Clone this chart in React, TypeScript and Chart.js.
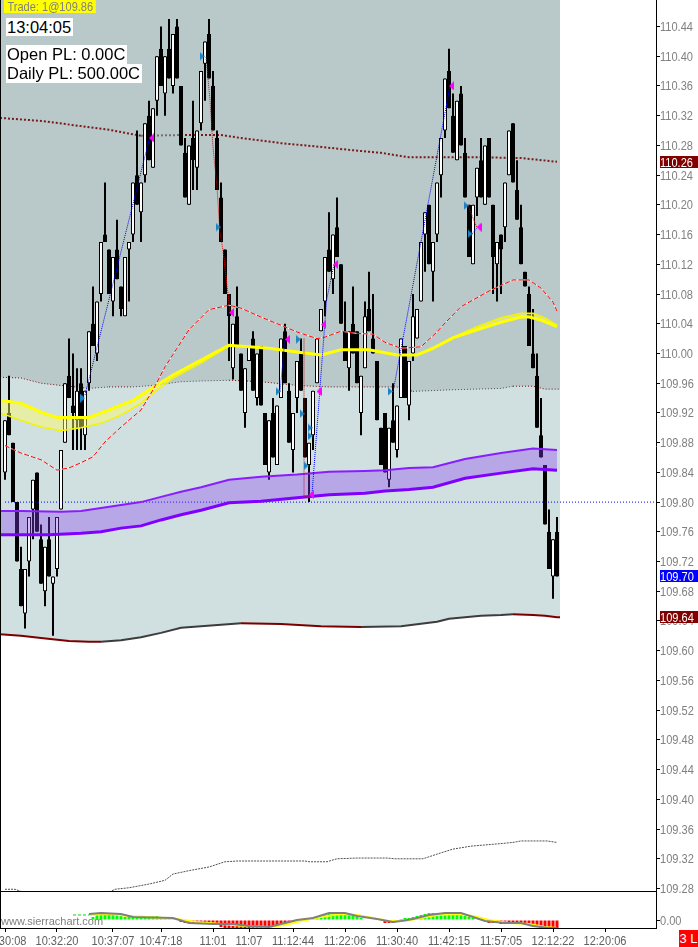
import React, { useEffect, useRef } from "react";
import { Chart, registerables } from "chart.js";
Chart.register(...registerables);

const SANS = "'Liberation Sans', Arial, sans-serif";
const NARROW_K = 0.85;

// ---- axes ----
const X_MIN = -1.25;
const X_MAX = 162.75;
const BG_END = 138.75;
const Y_MIN = 109.2753;
const Y_MAX = 110.4757;
const OSC_MIN = -0.008;
const OSC_MAX = 0.028;

const priceTicks = [109.28, 109.32, 109.36, 109.40, 109.44, 109.48, 109.52, 109.56, 109.60, 109.64, 109.68, 109.72, 109.76, 109.80, 109.84, 109.88, 109.92, 109.96, 110.00, 110.04, 110.08, 110.12, 110.16, 110.20, 110.24, 110.28, 110.32, 110.36, 110.40, 110.44];
const oscTicks = [0];
const oscTickLabels = ["0.00"];
const timeIdx = [0, 13, 27, 39, 52, 61, 72, 85, 98, 111, 124, 137, 150];
const timeLabels = ["10:30:08", "10:32:20", "10:37:07", "10:47:18", "11:01", "11:07", "11:12:44", "11:22:06", "11:30:40", "11:42:15", "11:57:05", "12:12:22", "12:20:06"];

// ---- candles ----
const opens = [
  109.84, 109.92, 109.88, 109.80, 109.71, 109.65, 109.72, 109.79, 109.84, 109.75,
  109.68, 109.75, 109.69, 109.71, 109.79, 109.88, 109.97, 109.93, 109.91, 109.96,
  109.89, 109.96, 110.04, 110.00, 110.08, 110.16, 110.14, 110.07, 110.14, 110.09,
  110.05, 110.14, 110.16, 110.24, 110.19, 110.24, 110.32, 110.25, 110.34, 110.41,
  110.35, 110.41, 110.36, 110.44, 110.36, 110.27, 110.20, 110.29, 110.25, 110.31,
  110.39, 110.43, 110.36, 110.29, 110.21, 110.14, 110.08, 109.98, 110.05, 110.00,
  109.92, 109.99, 110.02, 109.94, 110.01, 109.92, 109.84, 109.92, 109.85, 109.94,
  110.03, 109.95, 109.87, 109.94, 110.00, 109.94, 109.85, 109.89, 109.96, 110.03,
  110.07, 110.14, 110.10, 110.17, 110.12, 110.03, 109.98, 110.04, 110.03, 109.92,
  109.98, 110.06, 110.02, 109.99, 109.90, 109.92, 109.83, 109.91, 109.87, 109.94,
  110.01, 109.93, 110.00, 110.02, 110.07, 110.16, 110.20, 110.11, 110.16, 110.24,
  110.30, 110.38, 110.32, 110.26, 110.35, 110.27, 110.20, 110.12, 110.21, 110.26,
  110.20, 110.29, 110.20, 110.12, 110.16, 110.17, 110.24, 110.31, 110.22, 110.17,
  110.11, 110.08, 110.00, 109.97, 109.89, 109.85, 109.76, 109.70, 109.76,
];
const highs = [
  109.91, 109.97, 109.88, 109.80, 109.74, 109.71, 109.78, 109.83, 109.84, 109.77,
  109.74, 109.78, 109.70, 109.78, 109.87, 109.96, 110.02, 110.00, 109.98, 109.98,
  109.95, 110.03, 110.09, 110.07, 110.15, 110.23, 110.14, 110.13, 110.18, 110.09,
  110.13, 110.15, 110.23, 110.30, 110.23, 110.31, 110.34, 110.33, 110.40, 110.44,
  110.40, 110.45, 110.43, 110.45, 110.36, 110.29, 110.28, 110.34, 110.30, 110.38,
  110.42, 110.45, 110.38, 110.30, 110.23, 110.14, 110.08, 110.04, 110.09, 110.00,
  109.98, 110.01, 110.03, 110.00, 110.01, 109.92, 109.91, 109.94, 109.93, 110.02,
  110.04, 109.96, 109.92, 109.99, 110.02, 109.94, 109.88, 109.95, 110.02, 110.06,
  110.13, 110.19, 110.16, 110.21, 110.12, 110.07, 110.03, 110.09, 110.03, 109.97,
  110.07, 110.11, 110.08, 109.99, 109.90, 109.92, 109.90, 109.96, 109.93, 110.02,
  110.01, 109.99, 110.08, 110.06, 110.15, 110.19, 110.20, 110.15, 110.23, 110.29,
  110.37, 110.41, 110.35, 110.34, 110.36, 110.29, 110.20, 110.20, 110.25, 110.29,
  110.28, 110.29, 110.20, 110.15, 110.16, 110.23, 110.30, 110.31, 110.26, 110.20,
  110.11, 110.09, 110.06, 110.00, 109.94, 109.85, 109.79, 109.75, 109.78,
];
const lows = [
  109.83, 109.89, 109.80, 109.72, 109.66, 109.63, 109.70, 109.75, 109.76, 109.69,
  109.66, 109.70, 109.62, 109.70, 109.79, 109.88, 109.94, 109.87, 109.87, 109.87,
  109.87, 109.95, 110.01, 109.99, 110.07, 110.15, 110.08, 110.05, 110.10, 110.05,
  110.05, 110.07, 110.15, 110.20, 110.15, 110.23, 110.26, 110.25, 110.32, 110.36,
  110.32, 110.37, 110.35, 110.37, 110.28, 110.21, 110.20, 110.22, 110.22, 110.30,
  110.34, 110.37, 110.30, 110.22, 110.15, 110.08, 109.99, 109.965, 110.01, 109.95,
  109.90, 109.99, 109.95, 109.93, 109.93, 109.85, 109.83, 109.86, 109.85, 109.94,
  109.96, 109.88, 109.84, 109.92, 109.95, 109.86, 109.80, 109.87, 109.96, 110.03,
  110.05, 110.11, 110.08, 110.13, 110.04, 109.99, 109.95, 110.00, 109.96, 109.89,
  109.98, 110.03, 110.00, 109.91, 109.85, 109.84, 109.82, 109.88, 109.86, 109.94,
  109.94, 109.91, 109.99, 110.02, 110.07, 110.11, 110.12, 110.07, 110.15, 110.21,
  110.29, 110.33, 110.27, 110.26, 110.28, 110.21, 110.13, 110.12, 110.185, 110.21,
  110.20, 110.21, 110.08, 110.07, 110.08, 110.15, 110.24, 110.23, 110.18, 110.12,
  110.09, 110.01, 109.98, 109.90, 109.86, 109.77, 109.71, 109.67, 109.70,
];
const closes = [
  109.91, 109.89, 109.80, 109.72, 109.66, 109.71, 109.78, 109.83, 109.76, 109.69,
  109.74, 109.70, 109.70, 109.78, 109.87, 109.96, 109.94, 109.92, 109.95, 109.90,
  109.95, 110.03, 110.01, 110.07, 110.15, 110.15, 110.08, 110.13, 110.10, 110.06,
  110.13, 110.15, 110.23, 110.20, 110.23, 110.31, 110.26, 110.33, 110.40, 110.36,
  110.40, 110.37, 110.43, 110.37, 110.28, 110.21, 110.28, 110.26, 110.30, 110.38,
  110.42, 110.37, 110.30, 110.22, 110.15, 110.08, 110.05, 110.04, 110.01, 109.95,
  109.98, 110.01, 109.95, 110.00, 109.93, 109.85, 109.91, 109.86, 109.93, 110.02,
  109.96, 109.88, 109.92, 109.99, 109.95, 109.86, 109.88, 109.95, 110.02, 110.06,
  110.13, 110.11, 110.16, 110.13, 110.04, 109.99, 110.03, 110.00, 109.96, 109.97,
  110.05, 110.03, 110.00, 109.91, 109.85, 109.84, 109.90, 109.88, 109.93, 110.02,
  109.94, 109.99, 110.05, 110.06, 110.15, 110.19, 110.12, 110.15, 110.23, 110.29,
  110.37, 110.33, 110.27, 110.34, 110.28, 110.21, 110.13, 110.20, 110.25, 110.21,
  110.28, 110.21, 110.13, 110.15, 110.14, 110.23, 110.30, 110.23, 110.18, 110.12,
  110.09, 110.01, 109.98, 109.90, 109.86, 109.77, 109.71, 109.75, 109.70,
];

// ---- studies: [bar index, price] ----
const upperDotted = [[-1.25, 110.317], [9, 110.313], [19, 110.306], [26, 110.301], [34, 110.293], [44, 110.294], [54, 110.294], [59, 110.290], [69, 110.283], [79, 110.278], [86, 110.274], [94, 110.270], [101, 110.264], [111, 110.264], [119, 110.264], [129, 110.263], [138, 110.258]];
const midDotted = [[-1.25, 109.968], [4, 109.967], [9, 109.960], [14, 109.957], [21, 109.953], [26, 109.955], [32, 109.955], [37, 109.957], [44, 109.962], [49, 109.963], [56, 109.964], [64, 109.962], [73, 109.957], [81, 109.955], [89, 109.955], [98, 109.955], [102, 109.949], [111, 109.951], [124, 109.953], [127, 109.956], [132, 109.956], [135, 109.952], [138, 109.952]];
const lowerLine = [[-1.25, 109.622], [4, 109.620], [9, 109.617], [16, 109.613], [21, 109.612], [24, 109.612], [29, 109.614], [34, 109.618], [39, 109.624], [44, 109.631], [49, 109.633], [59, 109.637], [69, 109.636], [79, 109.633], [89, 109.632], [99, 109.633], [108, 109.639], [111, 109.643], [115, 109.645], [119, 109.647], [124, 109.648], [127, 109.649], [132, 109.648], [135, 109.647], [138, 109.645]];
const bottomDotted = [[0, 109.279], [2.5, 109.279], [4, 109.276], [6, 109.274], [25, 109.274], [26, 109.275], [27.5, 109.279], [31, 109.281], [36, 109.286], [40, 109.291], [42, 109.2995], [46, 109.304], [51, 109.309], [55, 109.316], [58, 109.317], [75, 109.317], [76, 109.316], [80.5, 109.316], [83, 109.320], [88, 109.321], [95.5, 109.321], [97.5, 109.320], [104.5, 109.320], [109, 109.328], [112, 109.333], [116.5, 109.337], [123, 109.340], [127, 109.342], [129, 109.344], [135.5, 109.344], [138, 109.342]];
const redMA = [[0, 109.876], [4, 109.866], [9, 109.857], [13, 109.843], [16, 109.846], [19, 109.853], [22, 109.861], [25, 109.881], [29, 109.901], [34, 109.924], [37, 109.951], [40, 109.982], [46, 110.032], [51, 110.059], [56, 110.065], [59, 110.061], [64, 110.049], [69, 110.038], [73, 110.029], [78, 110.020], [80, 110.022], [84, 110.030], [88, 110.027], [92, 110.026], [95, 110.015], [99, 110.007], [104, 110.009], [108, 110.029], [110, 110.041], [114, 110.063], [118, 110.075], [121, 110.084], [127, 110.099], [131, 110.099], [134, 110.088], [137, 110.069], [138, 110.057]];
const yellowMain = [[-1.25, 109.937], [4, 109.933], [9, 109.921], [13, 109.914], [21, 109.914], [26, 109.924], [32, 109.937], [36, 109.951], [42, 109.971], [49, 109.991], [56, 110.011], [61, 110.009], [66, 110.007], [73, 110.002], [79, 109.998], [84, 110.005], [91, 110.005], [98, 109.998], [103, 109.998], [107, 110.007], [112, 110.021], [118, 110.032], [124, 110.042], [129, 110.049], [131, 110.049], [134, 110.045], [138, 110.036]];
const yellowAlt = [[-1.25, 109.920], [4, 109.910], [9, 109.901], [14, 109.896], [19, 109.900], [24, 109.906], [29, 109.917], [34, 109.933], [38, 109.951], [42, 109.967], [49, 109.987], [56, 110.010], [61, 110.009], [66, 110.007], [73, 110.002], [79, 109.998], [84, 110.005], [91, 110.005], [98, 109.998], [103, 109.998], [107, 110.008], [112, 110.022], [118, 110.036], [124, 110.048], [129, 110.054], [132, 110.054], [135, 110.048], [138, 110.038]];
const purpleUpper = [[-1.25, 109.788], [4, 109.788], [14, 109.787], [19, 109.788], [24, 109.792], [29, 109.796], [34, 109.800], [39, 109.807], [44, 109.814], [49, 109.820], [56, 109.830], [64, 109.834], [73, 109.837], [81, 109.841], [90, 109.842], [95, 109.843], [101, 109.846], [107, 109.847], [115, 109.858], [124, 109.866], [132, 109.872], [138, 109.870]];
const purpleLower = [[-1.25, 109.756], [4, 109.756], [11, 109.756], [19, 109.758], [24, 109.760], [29, 109.765], [34, 109.768], [39, 109.776], [44, 109.783], [49, 109.789], [56, 109.799], [64, 109.801], [73, 109.806], [81, 109.810], [90, 109.812], [95, 109.815], [101, 109.817], [107, 109.820], [115, 109.832], [124, 109.839], [132, 109.845], [138, 109.843]];
const entryLevel = [[0, 109.80], [162.75, 109.80]];

// ---- trades ----
const blueMarks = [[19.4, 109.940], [49.25, 110.400], [53.25, 110.170], [68.25, 109.949], [73.3, 110.019], [74.25, 109.919], [76.25, 109.900], [76.25, 109.889], [75.25, 109.849], [96.25, 109.949], [115.25, 110.199], [116.25, 110.161]];
const magentaMarks = [[36.6, 110.290], [56.6, 110.055], [70.6, 110.019], [78.5, 109.949], [76.6, 109.810], [79.6, 110.039], [82.6, 110.120], [111.6, 110.360], [118.5, 110.170]];
const winLines = [
  [[20, 109.944], [36, 110.287]],
  [[68.75, 109.949], [70, 110.019]],
  [[76.7, 109.807], [80.4, 110.072], [82.25, 110.120]],
  [[97, 109.948], [111.25, 110.360]],
  [[116.75, 110.161], [118, 110.169]],
];
const lossLines = [
  [[50.25, 110.399], [51.25, 110.341], [52, 110.278], [53, 110.224], [53.75, 110.162], [54.5, 110.139], [56.25, 110.056]],
  [[74.75, 110.020], [74.75, 109.808], [76, 109.808]],
  [[115.75, 110.199], [118, 110.169]],
];

// ---- oscillator pane ----
const oscHist = [
  null, null, null, null, null, null, null, null, null, null, null, null, null, null, null, null, null, null, null, null, null, null,
  0.003, 0.005, 0.007, 0.007, 0.007, 0.006, 0.005, 0.004, 0.003, 0.003, 0.003, 0.003, 0.003, 0.003, 0.004, 0.004, 0.004, 0.003, 0.003, 0.002, 0.002, 0.001,
  -0.002, -0.003, -0.003, -0.003, -0.004, -0.004, -0.004, -0.004, -0.005, -0.005, -0.007, -0.008, -0.008, -0.008, -0.008, -0.008, -0.008, -0.008, -0.008, -0.008, -0.008, -0.007, -0.007, -0.006, -0.005, -0.004, -0.004, -0.003, -0.002,
  0.001, 0.001, 0.002, 0.002, 0.003, 0.004, 0.005, 0.006, 0.007, 0.007, 0.007, 0.007, 0.006, 0.005, 0.004, 0.003, 0.002,
  null, null, null, null, null,
  -0.003, -0.003, -0.003, -0.002,
  0.001, 0.002, 0.002, 0.003, 0.004, 0.005, 0.006, 0.007, 0.007, 0.007, 0.007, 0.007, 0.007, 0.007, 0.006, 0.005, 0.004, 0.003, 0.002,
  null, null, null,
  -0.003, -0.003, -0.003, -0.004, -0.004, -0.004, -0.004, -0.004, -0.004, -0.005, -0.005, -0.006, -0.007, -0.008, -0.008, -0.008, -0.008, -0.008,
];
const oscGray = [[21, 0.006], [24, 0.007], [29, 0.006], [32, 0.003], [42, 0.002], [46, -0.003], [52, -0.004], [57, -0.004], [61, -0.006], [66, -0.007], [70, -0.003], [73, 0], [77, 0.002], [81, 0.007], [85, 0.007], [88, 0.004], [93, 0.001], [97, -0.002], [99, -0.001], [102, 0.001], [106, 0.005], [110, 0.007], [114, 0.007], [117, 0.003], [120, -0.001], [125, -0.003], [129, -0.003], [132, -0.006], [136, -0.008], [138, -0.008]];
const oscYellow = [[21, 0.005], [26, 0.006], [31, 0.004], [36, 0.003], [43, 0.001], [48, -0.002], [54, -0.004], [60, -0.006], [66, -0.007], [70, -0.005], [74, -0.001], [79, 0.003], [84, 0.006], [88, 0.005], [92, 0.002], [96, -0.001], [100, -0.001], [104, 0.002], [108, 0.005], [113, 0.006], [117, 0.004], [121, 0], [126, -0.003], [131, -0.004], [135, -0.007], [138, -0.008]];
const oscGreenDash = [[17, 0.005], [21, 0.005]];

// ---- price flags on axis ----
const flagValues = [110.258, 109.70, 109.645];
const flagTexts = ["110.26", "109.70", "109.64"];
const flagColors = ["#800000", "#0000ff", "#800000"];

function triangle(color: string, dir: number) {
  const c = document.createElement("canvas");
  c.width = 5;
  c.height = 9;
  const g = c.getContext("2d")!;
  g.fillStyle = color;
  g.beginPath();
  if (dir > 0) {
    g.moveTo(0, 0); g.lineTo(5, 4.5); g.lineTo(0, 9);
  } else {
    g.moveTo(5, 0); g.lineTo(0, 4.5); g.lineTo(5, 9);
  }
  g.closePath();
  g.fill();
  return c;
}

function narrowText(ctx: CanvasRenderingContext2D, text: string, x: number, y: number, align: CanvasTextAlign) {
  ctx.save();
  ctx.translate(x, y);
  ctx.scale(NARROW_K, 1);
  ctx.textAlign = align;
  ctx.fillText(text, 0, 0);
  ctx.restore();
}

export default function App() {
  const canvasRef = useRef<HTMLCanvasElement | null>(null);

  useEffect(() => {
    document.body.style.margin = "0";
    const canvas = canvasRef.current;
    if (!canvas) return;

    const P = (arr: number[][]) => arr.map(([x, y]) => ({ x, y }));
    const PE = (arr: number[][]) => [...P(arr), { x: BG_END, y: arr[arr.length - 1][1] }];
    const seg = (up: string, down: string) => (c: any) => (c.p1.parsed.y > c.p0.parsed.y ? up : down);
    const line = (extra: any) => ({
      type: "line", pointRadius: 0, pointHoverRadius: 0, tension: 0, borderWidth: 1,
      fill: false, xAxisID: "x", yAxisID: "y", ...extra,
    });

    const datasets: any[] = [];
    // 0: lower band line + light background
    datasets.push(line({ data: PE(lowerLine), borderWidth: 2, backgroundColor: "#d0dfdf", fill: "end", order: 100,
      segment: { borderColor: seg("#3c3c3c", "#7a0000") }, borderColor: "#7a0000" }));
    // 1: middle dotted + dark background
    datasets.push(line({ data: PE(midDotted), borderDash: [1, 2], backgroundColor: "#b9c9c9", fill: "end", order: 99,
      segment: { borderColor: seg("#505050", "#7a1010") }, borderColor: "#7a1010" }));
    // 2: upper dotted
    datasets.push(line({ data: P(upperDotted), borderWidth: 2, borderDash: [2, 2], order: 98,
      segment: { borderColor: seg("#707070", "#7a1a1a") }, borderColor: "#7a1a1a" }));
    // 3: bottom dotted
    datasets.push(line({ data: P(bottomDotted), borderDash: [2, 1], borderColor: "#505050", order: 97 }));
    // 4: wicks
    datasets.push({ type: "bar", data: lows.map((l, i) => ({ x: i, y: [l, highs[i]] })), backgroundColor: "#000",
      borderWidth: 0, barThickness: 2, grouped: false, inflateAmount: 0, order: 80, xAxisID: "x", yAxisID: "y" });
    // 5: bodies
    datasets.push({ type: "bar", data: opens.map((o, i) => ({ x: i, y: [o, closes[i]] })),
      backgroundColor: opens.map((o, i) => (closes[i] >= o ? "#ffffff" : "#000000")),
      borderColor: "#000", borderWidth: 1, borderSkipped: false, barThickness: 4, grouped: false, inflateAmount: 0,
      order: 79, xAxisID: "x", yAxisID: "y" });
    // 6: entry level
    datasets.push(line({ data: P(entryLevel), borderColor: "#0000ff", borderDash: [1, 2], order: 78 }));
    // 7,8: purple band
    datasets.push(line({ data: P(purpleUpper), borderColor: "#8a1cff", borderWidth: 2, backgroundColor: "rgba(139,64,247,0.35)",
      fill: { target: 8 }, order: 70 }));
    datasets.push(line({ data: P(purpleLower), borderColor: "#8000ff", borderWidth: 3, order: 69 }));
    // 9,10: yellow band
    datasets.push(line({ data: P(yellowAlt), borderColor: "#f4f400", borderWidth: 1.5, backgroundColor: "rgba(255,255,100,0.45)",
      fill: { target: 10 }, order: 68 }));
    datasets.push(line({ data: P(yellowMain), borderColor: "#ffff00", borderWidth: 3, order: 67 }));
    // 11,12: red MA
    datasets.push(line({ data: P(redMA), borderColor: "#ffffff", order: 66 }));
    datasets.push(line({ data: P(redMA), borderColor: "#ff0000", borderDash: [5, 2], order: 65 }));
    // 13-16: oscillator
    const histPts = oscHist.map((v, i) => (v === null ? null : { x: i, y: v })).filter((p) => p !== null) as any[];
    datasets.push({ type: "bar", data: histPts, backgroundColor: histPts.map((p) => (p.y >= 0 ? "#00ff00" : "#ff0000")),
      borderWidth: 0, barThickness: 3, grouped: false, inflateAmount: 0, order: 60, xAxisID: "x", yAxisID: "y2" });
    datasets.push(line({ data: P(oscYellow), borderColor: "#ffff00", borderWidth: 2, yAxisID: "y2", order: 59 }));
    datasets.push(line({ data: P(oscGray), borderColor: "#808080", borderWidth: 2, yAxisID: "y2", order: 58 }));
    datasets.push(line({ data: P(oscGreenDash), borderColor: "#00e000", borderWidth: 1, borderDash: [3, 2], yAxisID: "y2", order: 57 }));
    // trade lines
    winLines.forEach((l) => datasets.push(line({ data: P(l), borderColor: "#0000ff", borderDash: [1, 1], order: 20 })));
    lossLines.forEach((l) => datasets.push(line({ data: P(l), borderColor: "#e00000", borderDash: [1, 1], order: 20 })));
    // markers
    datasets.push(line({ data: P(blueMarks), showLine: false, pointRadius: 4, pointStyle: triangle("#1c84c6", 1), order: 10 }));
    datasets.push(line({ data: P(magentaMarks), showLine: false, pointRadius: 4, pointStyle: triangle("#ff00ff", -1), order: 10 }));

    const paneClip = {
      id: "paneClip",
      beforeDatasetDraw(chart: any, args: any) {
        const ys = args.meta.yScale;
        const ca = chart.chartArea;
        chart.ctx.save();
        chart.ctx.beginPath();
        chart.ctx.rect(ca.left, ys.top, ca.right - ca.left, ys.bottom - ys.top);
        chart.ctx.clip();
      },
      afterDatasetDraw(chart: any) {
        chart.ctx.restore();
      },
    };

    // axis labels drawn in a narrow face at the scales' own tick positions
    const overlay = {
      id: "overlay",
      afterDraw(chart: any) {
        const { ctx, chartArea } = chart;
        const xs = chart.scales.x;
        const ys = chart.scales.y;
        const y2 = chart.scales.y2;
        ctx.save();
        ctx.fillStyle = "#000";
        ctx.fillRect(chartArea.left, Math.round(ys.bottom) - 1, chartArea.right - chartArea.left, 1);
        ctx.fillRect(chartArea.left, chartArea.top, 1, chartArea.bottom - chartArea.top);
        ctx.font = `13px ${SANS}`;
        ctx.textBaseline = "alphabetic";
        ctx.fillStyle = "#808080";
        priceTicks.forEach((v) => {
          narrowText(ctx, v.toFixed(2), ys.left + 4, Math.round(ys.getPixelForValue(v) + 4.5), "left");
        });
        oscTicks.forEach((v, k) => {
          narrowText(ctx, oscTickLabels[k], y2.left + 4, Math.round(y2.getPixelForValue(v) + 4.5), "left");
        });
        ctx.fillStyle = "#606060";
        timeIdx.forEach((v, k) => {
          narrowText(ctx, timeLabels[k], xs.getPixelForValue(v), chartArea.bottom + 17, "center");
        });
        flagValues.forEach((v, k) => {
          const y = Math.round(ys.getPixelForValue(v));
          ctx.fillStyle = flagColors[k];
          ctx.fillRect(ys.left + 4, y - 6, 38, 12);
          ctx.fillStyle = "#ffffff";
          narrowText(ctx, flagTexts[k], ys.left + 4, y + 5, "left");
        });
        ctx.restore();
      },
    };

    const gridOpts = { display: true, offset: false, drawOnChartArea: false, drawTicks: true, tickLength: 4, color: "#000", tickColor: "#000" };
    const chart = new Chart(canvas, {
      type: "bar",
      data: { datasets },
      options: {
        responsive: false,
        animation: false,
        devicePixelRatio: 1,
        events: [],
        layout: { padding: 0, autoPadding: false },
        plugins: { legend: { display: false }, tooltip: { enabled: false } },
        scales: {
          x: {
            type: "linear", min: X_MIN, max: X_MAX, offset: false, position: "bottom",
            grid: gridOpts,
            border: { display: true, color: "#000", width: 1 },
            ticks: { display: false, autoSkip: false, maxRotation: 0 },
            afterBuildTicks: (s: any) => { s.ticks = timeIdx.map((v) => ({ value: v })); },
            afterFit: (s: any) => { s.height = 19; s.paddingLeft = 0; s.paddingRight = 0; },
          },
          y: {
            type: "linear", position: "right", stack: "pane", stackWeight: 892, min: Y_MIN, max: Y_MAX,
            grid: gridOpts,
            border: { display: true, color: "#000", width: 1 },
            ticks: { display: false, autoSkip: false },
            afterBuildTicks: (s: any) => { s.ticks = priceTicks.map((v) => ({ value: v })); },
            afterFit: (s: any) => { s.width = 42; s.paddingTop = 0; s.paddingBottom = 0; },
          },
          y2: {
            type: "linear", position: "right", stack: "pane", stackWeight: 36, min: OSC_MIN, max: OSC_MAX,
            grid: gridOpts,
            border: { display: true, color: "#000", width: 1 },
            ticks: { display: false, autoSkip: false },
            afterBuildTicks: (s: any) => { s.ticks = oscTicks.map((v) => ({ value: v })); },
            afterFit: (s: any) => { s.width = 42; s.paddingTop = 0; s.paddingBottom = 0; },
          },
        },
      } as any,
      plugins: [paneClip, overlay],
    } as any);

    return () => chart.destroy();
  }, []);

  const box = (top: number, left: number, extra: any = {}) => ({
    position: "absolute" as const, top, left, whiteSpace: "nowrap" as const, ...extra,
  });

  return (
    <div style={{ position: "fixed", left: 0, top: 0, width: 698, height: 947, background: "#fff", overflow: "hidden" }}>
      <canvas ref={canvasRef} width={698} height={947} style={{ position: "absolute", left: 0, top: 0, width: 698, height: 947 }} />
      <div style={box(0, 4, { background: "#ffff00", color: "#808080", font: `13px ${SANS}`, lineHeight: "13px", height: 13, padding: "0 3px 0 4px", transform: `scaleX(${NARROW_K})`, transformOrigin: "0 0" })}>Trade: 1@109.86</div>
      <div style={box(18, 6, { background: "#fff", color: "#000", font: `16.5px ${SANS}`, lineHeight: "18px", height: 18, padding: "0 2px 0 1px" })}>13:04:05</div>
      <div style={box(45, 6, { background: "#fff", color: "#000", font: `16.5px ${SANS}`, lineHeight: "19px", height: 19, padding: "0 2px 0 1px" })}>Open PL: 0.00C</div>
      <div style={box(64, 6, { background: "#fff", color: "#000", font: `16.5px ${SANS}`, lineHeight: "19px", height: 19, padding: "0 2px 0 1px" })}>Daily PL: 500.00C</div>
      <div style={box(915, 1, { color: "#808080", font: `11px ${SANS}`, lineHeight: "12px" })}>www.sierrachart.com</div>
      <div style={box(930, 679, { background: "#ff0000", color: "#ffffff", font: `13px ${SANS}`, lineHeight: "17px", height: 17, width: 19, textAlign: "center", overflow: "hidden" })}>3 L</div>
    </div>
  );
}
